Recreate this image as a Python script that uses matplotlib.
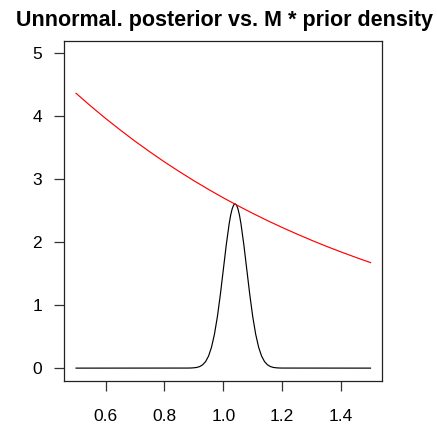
import matplotlib
matplotlib.use("Agg")
import matplotlib.pyplot as plt

# Unnormalized posterior (black)
post_x = [0.50, 0.88, 0.89, 0.90, 0.91, 0.92, 0.93, 0.94, 0.95, 0.96, 0.97, 0.98, 0.99,
          1.00, 1.01, 1.02, 1.025, 1.03, 1.035, 1.04, 1.045, 1.05, 1.055, 1.06, 1.07,
          1.08, 1.09, 1.10, 1.11, 1.12, 1.13, 1.14, 1.15, 1.16, 1.17, 1.18, 1.19, 1.20, 1.50]
post_y = [0.0, 0.001, 0.002, 0.005, 0.011, 0.025, 0.053, 0.104, 0.192, 0.332, 0.539, 0.818, 1.167,
          1.559, 1.953, 2.294, 2.428, 2.527, 2.589, 2.610, 2.589, 2.527, 2.428, 2.294, 1.953,
          1.559, 1.167, 0.818, 0.539, 0.332, 0.192, 0.104, 0.053, 0.025, 0.011, 0.005, 0.002, 0.001, 0.0]

# M * prior density (red)
prior_x = [0.50, 0.55, 0.60, 0.65, 0.70, 0.75, 0.80, 0.85, 0.90, 0.95, 1.00,
           1.05, 1.10, 1.15, 1.20, 1.25, 1.30, 1.35, 1.40, 1.45, 1.50]
prior_y = [4.365, 4.161, 3.967, 3.782, 3.605, 3.437, 3.276, 3.123, 2.977, 2.838, 2.705,
           2.579, 2.458, 2.343, 2.234, 2.130, 2.030, 1.935, 1.845, 1.759, 1.676]

x_ticks = [0.6, 0.8, 1.0, 1.2, 1.4]
x_tick_labels = ["0.6", "0.8", "1.0", "1.2", "1.4"]
y_ticks = [0, 1, 2, 3, 4, 5]
y_tick_labels = ["0", "1", "2", "3", "4", "5"]
title = "Unnormal. posterior vs. M * prior density"

plt.rcParams['font.family'] = ['Liberation Sans', 'DejaVu Sans']

fig = plt.figure(figsize=(4.37, 4.25), dpi=100)
ax = fig.add_axes([0.1471, 0.1042, 0.7277, 0.8])

ax.plot(post_x, post_y, color='black', lw=0.85)
ax.plot(prior_x, prior_y, color='red', lw=0.85)

ax.set_xlim(0.46, 1.54)
ax.set_ylim(-0.2, 5.2)
ax.set_xticks(x_ticks)
ax.set_xticklabels(x_tick_labels)
ax.set_yticks(y_ticks)
ax.set_yticklabels(y_tick_labels)

for s in ax.spines.values():
    s.set_linewidth(0.9)
    s.set_color('#222222')

ax.tick_params(axis='both', direction='out', length=7.5, width=0.9, colors='#333333',
               labelsize=12.5, labelcolor='black')
ax.tick_params(axis='x', pad=13)
ax.tick_params(axis='y', pad=8.4)

fig.text(0.5137, 0.9395, title, ha='center', va='baseline', fontsize=15.5,
         fontweight='bold')

fig.savefig("out.png", dpi=100)
